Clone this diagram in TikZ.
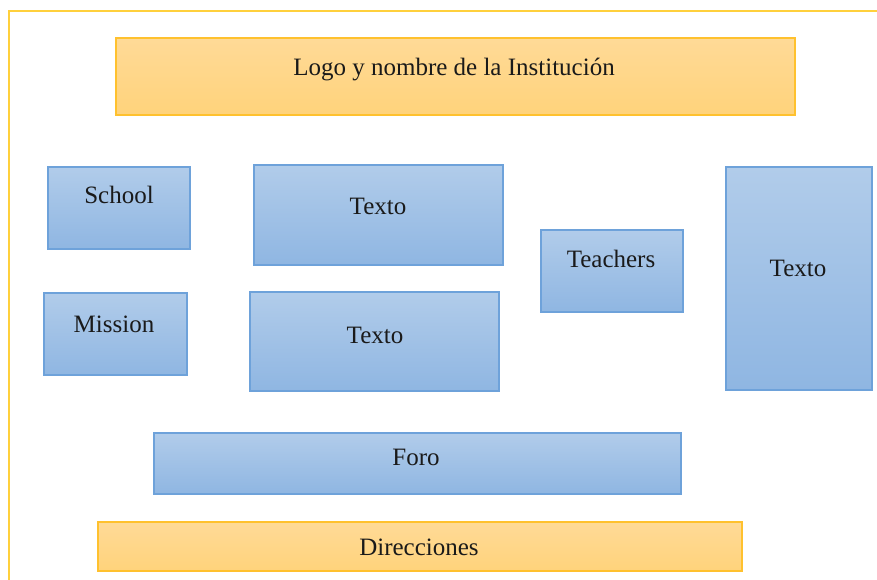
\documentclass[tikz,border=0pt]{standalone}
\usepackage{fontspec}
\setmainfont{Liberation Serif}
\definecolor{bluetop}{HTML}{B1CCEA}
\definecolor{bluebot}{HTML}{8FB6E2}
\definecolor{blueline}{HTML}{6EA2DA}
\definecolor{ortop}{HTML}{FFDA97}
\definecolor{orbot}{HTML}{FFD37B}
\definecolor{orline}{HTML}{FFC12E}
\definecolor{frame}{HTML}{FFD03C}
\definecolor{ink}{HTML}{1A1A1A}
\tikzset{
  bluebox/.style={draw=blueline, line width=1.6pt, top color=bluetop, bottom color=bluebot, inner sep=0pt},
  orbox/.style={draw=orline, line width=1.8pt, top color=ortop, bottom color=orbot, inner sep=0pt},
  txt/.style={anchor=base, inner sep=0pt, text=ink, font=\fontsize{25}{30}\selectfont},
}
\newcommand{\boxat}[6]{% style, name, x1, y1, x2, y2
  \node[#1, minimum width={(#5-#3)*1pt}, minimum height={(#6-#4)*1pt}] (#2) at ({(#3+#5)/2},{(#4+#6)/2}) {};}
\begin{document}
\begin{tikzpicture}[x=1pt,y=-1pt]
\useasboundingbox (0,0) rectangle (877,580);
\fill[white] (0,0) rectangle (877,580);
% outer frame
\coordinate (fbl) at (9,585);
\coordinate (ftl) at (9,11);
\coordinate (ftr) at (885,11);
\draw[frame, line width=2pt] (fbl) -- (ftl) -- (ftr);
% boxes
\boxat{orbox}{logo}{116}{38}{795}{115}
\boxat{bluebox}{school}{48}{167}{190}{249}
\boxat{bluebox}{texto1}{254}{165}{503}{265}
\boxat{bluebox}{mission}{44}{293}{187}{375}
\boxat{bluebox}{texto2}{250}{292}{499}{391}
\boxat{bluebox}{teachers}{541}{230}{683}{312}
\boxat{bluebox}{texto3}{726}{167}{872}{390}
\boxat{bluebox}{foro}{154}{433}{681}{494}
\boxat{orbox}{dir}{98}{522}{742}{571}
% texts
\node[txt] (tlogo) at (454,76) {Logo y nombre de la Institución};
\node[txt] (tschool) at (119,204) {School};
\node[txt] (ttexto1) at (378,214) {Texto};
\node[txt] (tmission) at (114,332) {Mission};
\node[txt] (ttexto2) at (375,343) {Texto};
\node[txt] (tteachers) at (611,267) {Teachers};
\node[txt] (ttexto3) at (798,276) {Texto};
\node[txt] (tforo) at (416,465) {Foro};
\node[txt] (tdir) at (419,555) {Direcciones};
\end{tikzpicture}
\end{document}
